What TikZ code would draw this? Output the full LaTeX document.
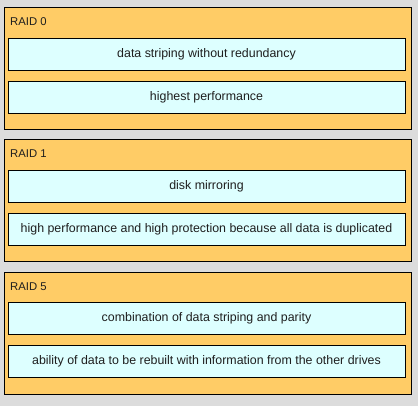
\documentclass[tikz,border=0pt]{standalone}
\usepackage{fontspec}
\setmainfont{Liberation Sans}
\definecolor{fond}{HTML}{DCDCDC}
\definecolor{panneau}{HTML}{FFCC66}
\definecolor{case}{HTML}{DDFFFF}
\definecolor{texte}{HTML}{1E1E1E}
\tikzset{
  panneau/.style={draw=black, line width=0.8pt, fill=panneau, minimum width=407pt, minimum height=122pt, anchor=north west, inner sep=0pt},
  casebox/.style={draw=black, line width=0.8pt, fill=case, minimum width=397pt, minimum height=32pt, inner sep=0pt, text=texte, font=\fontsize{12.4}{14}\selectfont},
  titre/.style={anchor=west, inner sep=0pt, text=texte, font=\fontsize{11.3}{13}\selectfont}
}
\begin{document}
\begin{tikzpicture}[x=1pt, y=-1pt]
    % Fond
    \useasboundingbox (0,0) rectangle (418,406);
    \fill[fond] (0,0) rectangle (418,406);

    % Panneaux avec titres
    \foreach \nom/\txt/\yy in {r0/RAID 0/7, r1/RAID 1/139, r5/RAID 5/272} {
        \node[panneau] (\nom) at (3.5,\yy) {};
        \node[titre] (\nom-titre) at (10,\yy+15) {\txt};
    }

    % Cases de texte
    \node[casebox] (r0-a) at (206.5,54) {data striping without redundancy};
    \node[casebox] (r0-b) at (206.5,97) {highest performance};

    \node[casebox] (r1-a) at (206.5,186) {disk mirroring};
    \node[casebox] (r1-b) at (206.5,229) {high performance and high protection because all data is duplicated};

    \node[casebox] (r5-a) at (206.5,318) {combination of data striping and parity};
    \node[casebox] (r5-b) at (206.5,361) {ability of data to be rebuilt with information from the other drives};
\end{tikzpicture}
\end{document}
